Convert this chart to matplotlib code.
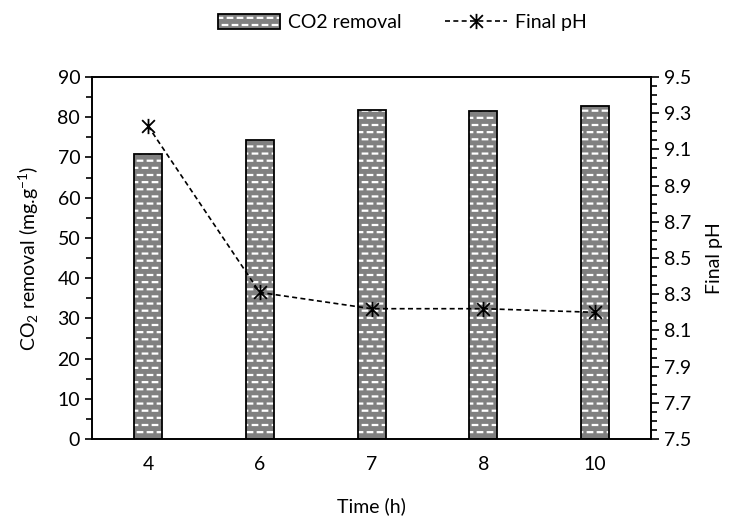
import matplotlib
matplotlib.use("Agg")
import matplotlib.pyplot as plt
from matplotlib import hatch as mhatch
from matplotlib.path import Path
from matplotlib.ticker import MultipleLocator
import numpy as np

# datos
tiempos = ["4", "6", "7", "8", "10"]
co2_removal = [70.9, 74.4, 81.8, 81.5, 82.9]
ph_final = [9.23, 8.31, 8.22, 8.22, 8.20]


class GuionesLadrillo(mhatch.HatchPatternBase):
    """Relleno de guiones blancos desplazados (tipo ladrillo) para el carácter '-'."""

    def __init__(self, hatch, density):
        self.filas = 14 if "-" in hatch else 0
        self.cols = 10
        pares = self.filas // 2
        self.num_vertices = (pares * self.cols + pares * (self.cols + 1)) * 2

    def set_vertices_and_codes(self, vertices, codes):
        largo = 0.045
        k = 0
        for r in range(self.filas):
            y = (r + 0.5) / self.filas
            if r % 2 == 0:
                centros = [(c + 0.5) / self.cols for c in range(self.cols)]
            else:
                centros = [c / self.cols for c in range(self.cols + 1)]
            for cx in centros:
                vertices[k] = (cx - largo / 2, y)
                vertices[k + 1] = (cx + largo / 2, y)
                codes[k] = Path.MOVETO
                codes[k + 1] = Path.LINETO
                k += 2


# reemplazar el patrón de guiones horizontales por el nuestro
mhatch._hatch_types[:] = [t for t in mhatch._hatch_types if t is not mhatch.HorizontalHatch]
mhatch._hatch_types.append(GuionesLadrillo)

plt.rcParams["font.family"] = ["Lato", "DejaVu Sans"]
plt.rcParams["font.size"] = 14
plt.rcParams["mathtext.fontset"] = "custom"
plt.rcParams["mathtext.rm"] = "Lato"
plt.rcParams["mathtext.it"] = "Lato"
plt.rcParams["mathtext.default"] = "regular"
plt.rcParams["hatch.linewidth"] = 1.6

# marcador tipo asterisco (x con línea vertical)
asterisco = Path(
    [(-1, -1), (1, 1), (-1, 1), (1, -1), (0, -1.2), (0, 1.2)],
    [Path.MOVETO, Path.LINETO, Path.MOVETO, Path.LINETO, Path.MOVETO, Path.LINETO],
)

fig = plt.figure(figsize=(7.38, 5.19), dpi=100)
ax = fig.add_axes([0.1247, 0.1541, 0.7575, 0.6975])
ax2 = ax.twinx()

x = np.arange(len(tiempos))
barras = ax.bar(x, co2_removal, width=0.25, color="#808080", edgecolor="black",
                linewidth=1.3, hatch="-", label="CO2 removal", zorder=2)
for b in barras:
    b._hatch_color = (1, 1, 1, 1)

linea, = ax2.plot(x, ph_final, color="black", linestyle=(0, (3, 2)), linewidth=1.2,
                  marker=asterisco, markersize=11, markerfacecolor="none",
                  markeredgecolor="black", markeredgewidth=1.3, label="Final pH")

ax.set_xlim(-0.5, len(tiempos) - 0.5)
ax.set_ylim(0, 90)
ax.yaxis.set_major_locator(MultipleLocator(10))
ax.yaxis.set_minor_locator(MultipleLocator(5))
ax2.set_ylim(7.5, 9.5)
ax2.yaxis.set_major_locator(MultipleLocator(0.2, offset=0.1))
ax2.yaxis.set_minor_locator(MultipleLocator(0.05))
ax2.yaxis.set_major_formatter(lambda v, p: f"{v:.1f}")

ax.set_xticks(x)
ax.set_xticklabels(tiempos)
ax.tick_params(axis="x", length=0, pad=12)
ax.tick_params(axis="y", which="major", direction="out", length=5, width=1.2)
ax.tick_params(axis="y", which="minor", direction="out", length=4, width=1.2)
ax2.tick_params(axis="y", which="major", direction="out", length=6, width=1.2)
ax2.tick_params(axis="y", which="minor", direction="out", length=4, width=1.2)

for a in (ax, ax2):
    for s in a.spines.values():
        s.set_linewidth(1.2)

ax.set_xlabel("Time (h)", labelpad=18)
ax.set_ylabel("CO$_2$ removal (mg.g$^{-1}$)", labelpad=12)
ax2.set_ylabel("Final pH", labelpad=10)

fig.legend(handles=[barras, linea], loc="center", bbox_to_anchor=(0.545, 0.956),
           ncol=2, frameon=False, handlelength=3.2, handleheight=0.8,
           columnspacing=2.2, handletextpad=0.4)

fig.savefig("out.png", dpi=100)
plt.close()
